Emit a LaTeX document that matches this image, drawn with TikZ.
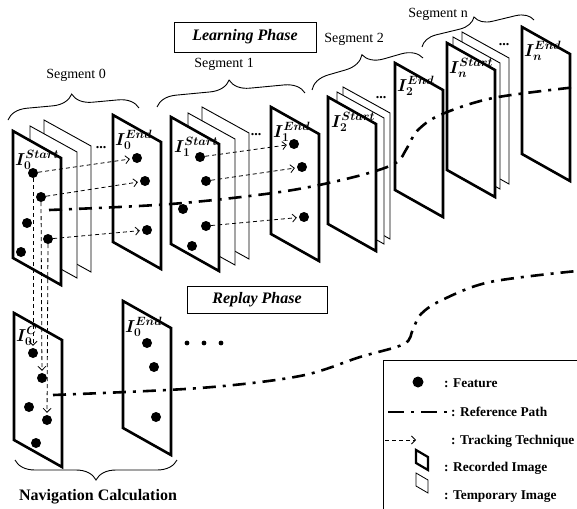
\documentclass[tikz,border=0pt]{standalone}
\usepackage{fontspec}
\setmainfont{Liberation Serif}
\usepackage{amsmath}
\usepackage{bm}
\usetikzlibrary{arrows.meta,decorations.pathreplacing}

% frames of the image sequence (top left corner given)
\newcommand{\recframe}[2]{\draw[recorded] (#1,#2) -- ++(48,27) -- ++(0,127) -- ++(-48,-27) -- cycle;}
\newcommand{\tmpframe}[2]{\draw[temporary] (#1,#2) -- ++(47,26) -- ++(0,126) -- ++(-47,-26) -- cycle;}
\newcommand{\imgname}[2]{$\bm{I}_{\bm{#1}}^{\bm{#2}}$}

\tikzset{
  recorded/.style={line width=2.6pt, fill=white},
  temporary/.style={line width=0.9pt, fill=white},
  feature/.style={circle, fill=black, inner sep=0pt, minimum size=10pt},
  track/.style={line width=0.8pt, dash pattern=on 4pt off 3pt, shorten >=2pt,
    -{Straight Barb[length=4pt,width=8pt,line width=0.8pt]}},
  refpath/.style={line width=2.6pt, dash pattern=on 13pt off 7pt on 3pt off 7pt},
  imglabel/.style={anchor=west, inner sep=0pt, font=\fontsize{18}{20}\selectfont},
  seglabel/.style={font=\fontsize{14}{16}\selectfont},
  segbrace/.style={line width=0.9pt, decorate, decoration={brace, amplitude=20pt}},
  skipdots/.style={font=\fontsize{14}{16}\selectfont\bfseries, inner sep=0pt},
  phasetext/.style={font=\fontsize{16}{18}\selectfont\bfseries\itshape},
  legendtext/.style={anchor=west, inner sep=0pt, font=\fontsize{13.4}{16}\selectfont\bfseries},
}

\begin{document}
\begin{tikzpicture}[x=1pt, y=-1pt]
\useasboundingbox (0,0) rectangle (577,508);

% Phase boxes
\draw[line width=0.8pt] (174,22) rectangle (316,52);
\node[phasetext] (learning) at (245,37) {Learning Phase};
\draw[line width=0.8pt] (187,286) rectangle (327,313);
\node[phasetext] (replay) at (257,300) {Replay Phase};

% Segment 0
\tmpframe{44}{120}
\tmpframe{30}{126}
\recframe{13}{131}
\node[skipdots] (dots0) at (101,148) {...};
\recframe{113}{115}
\node[imglabel] (start0) at (15,160) {\imgname{0}{Start}};
\node[imglabel] (end0) at (115,140) {\imgname{0}{End}};

% Segment 1
\tmpframe{202}{107}
\tmpframe{188}{113}
\recframe{171}{117}
\node[skipdots] (dots1) at (256,135) {...};
\recframe{271}{107}
\node[imglabel] (start1) at (174,147) {\imgname{1}{Start}};
\node[imglabel] (end1) at (273,132) {\imgname{1}{End}};

% Segment 2
\tmpframe{343}{87}
\tmpframe{337}{92}
\recframe{328}{97}
\node[skipdots] (dots2) at (381,98) {...};
\recframe{395}{63}
\node[imglabel] (start2) at (331,122) {\imgname{2}{Start}};
\node[imglabel] (end2) at (397,86) {\imgname{2}{End}};

% Segment n
\tmpframe{462}{32}
\tmpframe{453}{37}
\recframe{447}{43}
\node[skipdots] (dotsn) at (504,45) {...};
\recframe{522}{27}
\node[imglabel] (startn) at (449,68) {\imgname{n}{Start}};
\node[imglabel] (endn) at (524,51) {\imgname{n}{End}};

% Segment braces
\draw[segbrace] (8,120) -- (139,108);
\node[seglabel] (seg0) at (76,75) {Segment 0};
\draw[segbrace] (157,107) -- (305,93);
\node[seglabel] (seg1) at (224,64) {Segment 1};
\draw[segbrace] (312,90) -- (423,58);
\node[seglabel] (seg2) at (354,39) {Segment 2};
\draw[segbrace, decoration={brace, amplitude=17pt}] (422,47) -- (534,20);
\node[seglabel] (segn) at (438,14) {Segment n};

% Replay frames
\recframe{14}{313}
\recframe{123}{301}
\node[imglabel] (cur0) at (16,336) {\imgname{0}{C}};
\node[imglabel] (rend0) at (125,327) {\imgname{0}{End}};
\fill (187,343) circle (2.4) (204,343) circle (2.4) (221,343) circle (2.4);

% Reference path, learning phase
\draw[refpath] plot[smooth, tension=0.55] coordinates {(49,210) (171,204) (280,192) (350,178) (394,164) (407,148) (417,131) (440,115) (493,98) (577,87)};

% Reference path, replay phase
\draw[refpath] plot[smooth, tension=0.55] coordinates {(53,395) (200,388) (300,376) (360,357) (404,344) (413,329) (421,314) (442,300) (490,282) (577,271)};

% Features, segment 0
\node[feature] (s0a) at (33,173) {};
\node[feature] (s0b) at (41,197) {};
\node[feature] (s0c) at (27,223) {};
\node[feature] (s0d) at (48,239) {};
\node[feature] (s0e) at (21,252) {};
\node[feature] (e0a) at (137,158) {};
\node[feature] (e0b) at (145,181) {};
\node[feature] (e0c) at (147,230) {};

% Features, segment 1
\node[feature] (s1a) at (200,157) {};
\node[feature] (s1b) at (206,181) {};
\node[feature] (s1c) at (183,209) {};
\node[feature] (s1d) at (206,226) {};
\node[feature] (s1e) at (192,246) {};
\node[feature] (e1a) at (294,144) {};
\node[feature] (e1b) at (302,167) {};
\node[feature] (e1c) at (304,217) {};

% Features, replay phase
\node[feature] (c0a) at (33,353) {};
\node[feature] (c0b) at (42,378) {};
\node[feature] (c0c) at (29,407) {};
\node[feature] (c0d) at (47,420) {};
\node[feature] (c0e) at (36,443) {};
\node[feature] (r0a) at (147,343) {};
\node[feature] (r0b) at (154,367) {};
\node[feature] (r0c) at (156,417) {};

% Tracking
\draw[track] (s0a) -- (e0a);
\draw[track] (s0b) -- (e0b);
\draw[track] (s0d) -- (e0c);
\draw[track] (s1a) -- (e1a);
\draw[track] (s1b) -- (e1b);
\draw[track] (s1d) -- (e1c);
\draw[track] (s0a) -- (c0a);
\draw[track] (s0b) -- (c0b);
\draw[track] (s0d) -- (c0d);

% Navigation calculation brace
\draw[segbrace] (177,460) -- (15,460);
\node[font=\fontsize{16}{18}\selectfont\bfseries] (navcalc) at (98,497) {Navigation Calculation};

% Legend
\draw[line width=1pt] (578,360) -- (383,360) -- (383,510);
\node[feature, minimum size=11pt] (legfeat) at (418,382) {};
\node[legendtext] (txtfeat) at (444,383) {: Feature};
\coordinate (pathA) at (388,412);
\coordinate (pathB) at (451,412);
\draw[line width=2.6pt, dash pattern=on 16pt off 7pt on 3pt off 7pt] (pathA) -- (pathB);
\node[legendtext] (txtpath) at (451,412) {: Reference Path};
\coordinate (trackA) at (385,440);
\coordinate (trackB) at (418,440);
\draw[track] (trackA) -- (trackB);
\node[legendtext] (txttrack) at (451,441) {: Tracking Technique};
\draw[line width=2.2pt] (416,450) -- ++(12,7) -- ++(0,13) -- ++(-12,-7) -- cycle;
\node[legendtext] (txtrec) at (444,468) {: Recorded Image};
\draw[line width=0.8pt] (416,473) -- ++(12,7) -- ++(0,13) -- ++(-12,-7) -- cycle;
\node[legendtext] (txttmp) at (444,497) {: Temporary Image};
\end{tikzpicture}
\end{document}
